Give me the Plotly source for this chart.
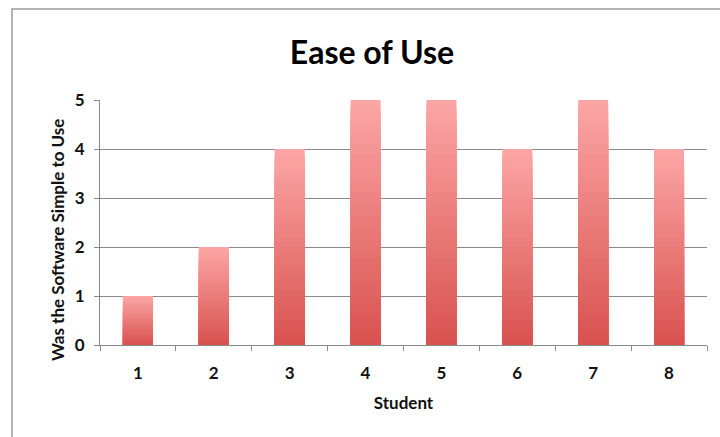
import plotly.graph_objects as go

students = ["1", "2", "3", "4", "5", "6", "7", "8"]
scores = [1, 2, 4, 5, 5, 4, 5, 4]
y_ticks = [0, 1, 2, 3, 4, 5]

title_text = "Ease of Use"
x_title = "Student"
y_title = "Was the Software Simple to Use"

top_rgb = (252, 166, 166)
bottom_rgb = (216, 82, 78)
n_seg = 40

fig = go.Figure()
# overlay: tallest (lightest) first, shorter darker layers on top -> vertical gradient, no seams
for k in range(n_seg):
    frac = 1 - k / n_seg
    t = (frac - 0.5 / n_seg)  # colour position of visible slice (0 bottom, 1 top)
    c = tuple(round(bottom_rgb[i] + (top_rgb[i] - bottom_rgb[i]) * t) for i in range(3))
    fig.add_trace(go.Bar(
        x=students,
        y=[v * frac for v in scores],
        marker=dict(color=f"rgb{c}", line=dict(width=0)),
        showlegend=False,
        hoverinfo="skip",
    ))

W, H = 720, 437
L, R, T, B = 100, 13, 100, 92
pw, ph = W - L - R, H - T - B

def px_x(p):
    return (p - L) / pw

def px_y(p):
    return 1 - (p - T) / ph

font_family = "Lato, 'Open Sans', sans-serif"
lab = dict(size=17, family=font_family, color="#111111", weight="bold")

fig.update_layout(
    width=W, height=H,
    margin=dict(l=L, r=R, t=T, b=B),
    barmode="overlay",
    bargap=0.605,
    plot_bgcolor="white",
    paper_bgcolor="white",
    font=dict(family=font_family, color="#111111"),
    title=dict(
        text=f"<b>{title_text}</b>",
        x=372 / W, xanchor="center",
        y=1 - 53 / H, yanchor="middle",
        font=dict(size=32, family=font_family, color="#000000"),
    ),
    xaxis=dict(
        type="category",
        tickson="boundaries",
        ticks="outside", ticklen=5, tickcolor="#8a8a8a",
        showline=True, linecolor="#8a8a8a", linewidth=1.2,
        showgrid=False,
        tickfont=lab,
        ticklabelstandoff=12,
        title=dict(text=x_title, font=lab, standoff=15),
    ),
    yaxis=dict(
        range=[0, 5],
        tickvals=y_ticks,
        ticks="outside", ticklen=5, tickcolor="#8a8a8a",
        showline=True, linecolor="#8a8a8a", linewidth=1.2,
        showgrid=True, gridcolor="#8a8a8a", gridwidth=1,
        zeroline=False,
        tickfont=lab,
        ticklabelstandoff=6,
    ),
    annotations=[
        dict(
            text=f"<b>{y_title}</b>",
            xref="paper", yref="paper",
            x=px_x(57), y=px_y(240),
            xanchor="center", yanchor="middle",
            textangle=-90, showarrow=False,
            font=dict(size=17, family=font_family, color="#111111"),
        )
    ],
    shapes=[
        dict(
            type="rect", xref="paper", yref="paper",
            x0=px_x(12), x1=px_x(760), y0=px_y(480), y1=px_y(9),
            line=dict(color="#9a9a9a", width=1.5),
            fillcolor="rgba(0,0,0,0)", layer="below",
        )
    ],
)

fig.write_html("out.html")
